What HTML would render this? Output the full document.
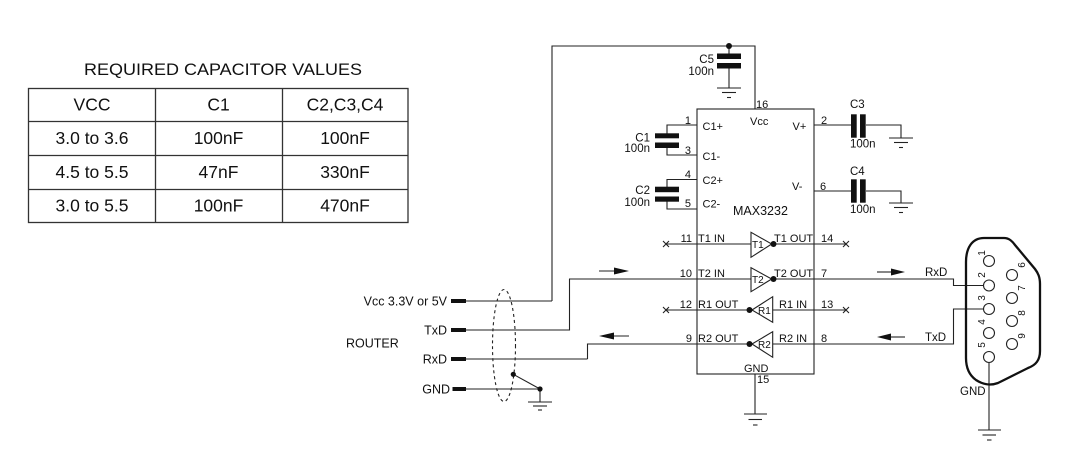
<!DOCTYPE html>
<html><head><meta charset="utf-8"><style>
html,body{margin:0;padding:0;background:#fff;}
svg{display:block;}
text{font-family:"Liberation Sans",Arial,sans-serif;fill:#111;}
</style></head><body>
<svg width="1067" height="465" viewBox="0 0 1067 465" xmlns="http://www.w3.org/2000/svg">
<!-- TABLE -->
<text x="223" y="75" font-size="17" text-anchor="middle" textLength="278" lengthAdjust="spacingAndGlyphs">REQUIRED CAPACITOR VALUES</text>
<g stroke="#333" stroke-width="1.3" fill="none">
<rect x="28.5" y="88.5" width="379.5" height="134"/>
<line x1="28.5" y1="121.5" x2="408" y2="121.5"/>
<line x1="28.5" y1="155.5" x2="408" y2="155.5"/>
<line x1="28.5" y1="189.5" x2="408" y2="189.5"/>
<line x1="155.5" y1="88.5" x2="155.5" y2="222.5"/>
<line x1="282.5" y1="88.5" x2="282.5" y2="222.5"/>
</g>
<g font-size="17.5" text-anchor="middle">
<text x="92" y="110.5">VCC</text><text x="218.5" y="110.5">C1</text><text x="345" y="110.5">C2,C3,C4</text>
<text x="92" y="144">3.0 to 3.6</text><text x="218.5" y="144">100nF</text><text x="345" y="144">100nF</text>
<text x="92" y="178">4.5 to 5.5</text><text x="218.5" y="178">47nF</text><text x="345" y="178">330nF</text>
<text x="92" y="211.5">3.0 to 5.5</text><text x="218.5" y="211.5">100nF</text><text x="345" y="211.5">470nF</text>
</g>

<!-- WIRES -->
<g stroke="#222" stroke-width="1.1" fill="none">
<!-- chip body -->
<rect x="697" y="109" width="117" height="265"/>
<!-- top vcc wire -->
<polyline points="552,301 552,46 755,46 755,109"/>
<!-- C5 -->
<line x1="729" y1="46" x2="729" y2="54"/>
<line x1="729" y1="68" x2="729" y2="88"/>
<line x1="717" y1="88" x2="741" y2="88"/>
<line x1="722" y1="92.5" x2="736" y2="92.5"/>
<line x1="727" y1="97.5" x2="731" y2="97.5"/>
<!-- C1 -->
<polyline points="697,125 667,125 667,134"/>
<polyline points="667,148 667,155 697,155"/>
<!-- C2 -->
<polyline points="697,179.5 667,179.5 667,187"/>
<polyline points="667,201 667,209 697,209"/>
<!-- C3 -->
<line x1="814" y1="125" x2="851" y2="125"/>
<polyline points="866,125 901,125 901,138"/>
<line x1="889" y1="138" x2="913" y2="138"/>
<line x1="894" y1="142.5" x2="908" y2="142.5"/>
<line x1="899" y1="147.5" x2="903" y2="147.5"/>
<!-- C4 -->
<line x1="814" y1="191" x2="851" y2="191"/>
<polyline points="866,191 901,191 901,203"/>
<line x1="889" y1="203" x2="913" y2="203"/>
<line x1="894" y1="207.5" x2="908" y2="207.5"/>
<line x1="899" y1="212.5" x2="903" y2="212.5"/>
<!-- T1 row -->
<line x1="666" y1="244" x2="751" y2="244"/>
<polygon points="751,232.3 751,257.3 771.7,244"/>
<line x1="772" y1="244" x2="846" y2="244"/>
<!-- T2 row -->
<line x1="569" y1="279" x2="751" y2="279"/>
<polygon points="751,267.7 751,291.7 771.7,279"/>
<polyline points="772,279 953.5,279 953.5,285.5 983.5,285.5"/>
<!-- R1 row -->
<line x1="666" y1="310" x2="752" y2="310"/>
<polygon points="752,310 772.7,296.7 772.7,322.3"/>
<line x1="772.7" y1="310" x2="846" y2="310"/>
<!-- R2 row -->
<polyline points="587.5,359 587.5,344 752,344"/>
<polygon points="752,344 772.7,331.7 772.7,357.3"/>
<polyline points="772.7,344 953.5,344 953.5,309 983.5,309"/>
<!-- TxD router wire -->
<polyline points="466,330 569.5,330 569.5,279"/>
<!-- Vcc router -->
<line x1="466" y1="301" x2="552" y2="301"/>
<!-- RxD router -->
<line x1="466" y1="359" x2="587.5" y2="359"/>
<!-- GND router -->
<line x1="466" y1="389" x2="540" y2="389"/>
<line x1="513.3" y1="374.3" x2="540" y2="389"/>
<line x1="540" y1="389" x2="540" y2="402"/>
<line x1="528" y1="402" x2="552" y2="402"/>
<line x1="533" y1="406" x2="547" y2="406"/>
<line x1="538" y1="410" x2="542" y2="410"/>
<!-- chip GND -->
<line x1="755" y1="374" x2="755" y2="414"/>
<line x1="744" y1="414" x2="767" y2="414"/>
<line x1="748.5" y1="419.5" x2="762" y2="419.5"/>
<line x1="753" y1="425" x2="757.5" y2="425"/>
<!-- DB9 GND -->
<line x1="989" y1="362.5" x2="989" y2="430"/>
<line x1="978" y1="430" x2="1001" y2="430"/>
<line x1="982.5" y1="435" x2="996" y2="435"/>
<line x1="987" y1="440" x2="991.5" y2="440"/>
<!-- x marks -->
<path d="M663,241 L669,247 M669,241 L663,247"/>
<path d="M843,241 L849,247 M849,241 L843,247"/>
<path d="M663,307 L669,313 M669,307 L663,313"/>
<path d="M843,307 L849,313 M849,307 L843,313"/>
<!-- arrows shafts -->
<line x1="599" y1="271" x2="616" y2="271"/>
<line x1="612" y1="336" x2="629" y2="336"/>
<line x1="877" y1="272" x2="893" y2="272"/>
<line x1="890" y1="337" x2="905" y2="337"/>
<!-- shield ellipse -->
<ellipse cx="504" cy="345.5" rx="11.5" ry="56" stroke-dasharray="3,3"/>
<!-- DB9 circles -->
<circle cx="989" cy="261" r="5.5"/>
<circle cx="989" cy="285.5" r="5.5"/>
<circle cx="989" cy="309" r="5.5"/>
<circle cx="989" cy="333" r="5.5"/>
<circle cx="989" cy="357" r="5.5"/>
<circle cx="1012" cy="275" r="5.5"/>
<circle cx="1012" cy="298" r="5.5"/>
<circle cx="1012" cy="321" r="5.5"/>
<circle cx="1012" cy="344" r="5.5"/>
</g>
<!-- DB9 shell -->
<path d="M966,262 C966,248 972,238 984,238 L1004,238 C1009,238 1012,241 1015,245 L1035,269 C1038,273 1040,277 1040,284 L1040,351 C1040,360 1036,365 1028,368 L998,383 C990,386 982,384 976,380 C969,375 966,368 966,358 Z" fill="none" stroke="#111" stroke-width="2.3"/>

<!-- filled parts -->
<g fill="#111">
<!-- cap plates -->
<rect x="717" y="53.5" width="24" height="5.5"/>
<rect x="717" y="63" width="24" height="5.5"/>
<rect x="655" y="133.3" width="24" height="5"/>
<rect x="655" y="142.5" width="24" height="5.5"/>
<rect x="655" y="186.7" width="24" height="5.5"/>
<rect x="655" y="196.5" width="24" height="5.2"/>
<rect x="851" y="114.3" width="5.7" height="23.4"/>
<rect x="860" y="114.3" width="5.7" height="23.4"/>
<rect x="851" y="179.3" width="5.7" height="23.4"/>
<rect x="860" y="179.3" width="5.7" height="23.4"/>
<!-- router stubs -->
<rect x="451" y="299" width="15" height="4"/>
<rect x="451" y="328" width="15" height="4"/>
<rect x="451" y="357" width="15" height="4"/>
<rect x="452.5" y="387" width="13.5" height="4"/>
<!-- dots -->
<circle cx="729" cy="46" r="3"/>
<circle cx="773.5" cy="244" r="3"/>
<circle cx="773.5" cy="279" r="3"/>
<circle cx="749.5" cy="310" r="3"/>
<circle cx="749.5" cy="344" r="3"/>
<circle cx="513.3" cy="374.3" r="2.6"/>
<circle cx="540" cy="389" r="2.6"/>
<!-- arrowheads -->
<polygon points="614,267.5 629,271 614,274.5"/>
<polygon points="599,336 614,332.5 614,339.5"/>
<polygon points="891,268.5 905,272 891,275.5"/>
<polygon points="877,337 891,333.5 891,340.5"/>
</g>

<!-- CHIP TEXT -->
<g font-size="11">
<text x="756" y="108">16</text>
<text x="750" y="125">Vcc</text>
<text x="702.5" y="130">C1+</text>
<text x="702.5" y="160">C1-</text>
<text x="702.5" y="184">C2+</text>
<text x="702.5" y="207.5">C2-</text>
<text x="792.5" y="130">V+</text>
<text x="792" y="190">V-</text>
<text x="733" y="215" font-size="12.5">MAX3232</text>
<text x="744" y="372">GND</text>
<text x="757" y="383">15</text>
<g text-anchor="end">
<text x="691" y="124">1</text>
<text x="691" y="154">3</text>
<text x="691" y="178">4</text>
<text x="691" y="207">5</text>
<text x="692" y="242">11</text>
<text x="692" y="277">10</text>
<text x="692" y="308">12</text>
<text x="692" y="342">9</text>
</g>
<text x="698" y="242">T1 IN</text>
<text x="698" y="277">T2 IN</text>
<text x="698" y="308">R1 OUT</text>
<text x="698" y="342">R2 OUT</text>
<text x="774" y="242">T1 OUT</text>
<text x="774" y="277">T2 OUT</text>
<text x="779" y="308">R1 IN</text>
<text x="779" y="342">R2 IN</text>
<text x="821" y="242">14</text>
<text x="821" y="277">7</text>
<text x="821" y="308">13</text>
<text x="821" y="342">8</text>
<text x="821" y="124">2</text>
<text x="820" y="190">6</text>
<text x="752" y="248" font-size="10">T1</text>
<text x="752" y="283" font-size="10">T2</text>
<text x="758" y="314" font-size="10">R1</text>
<text x="758" y="348" font-size="10">R2</text>
</g>
<!-- CAP LABELS -->
<g font-size="11.5">
<g text-anchor="end">
<text x="714" y="63">C5</text>
<text x="714" y="75">100n</text>
<text x="650" y="141.5">C1</text>
<text x="650" y="152">100n</text>
<text x="650" y="194">C2</text>
<text x="650" y="206">100n</text>
</g>
<text x="850" y="108">C3</text>
<text x="850" y="147.5">100n</text>
<text x="850" y="175">C4</text>
<text x="850" y="213">100n</text>
</g>
<!-- ROUTER LABELS -->
<g font-size="12.5" text-anchor="end">
<text x="447" y="305.5">Vcc 3.3V or 5V</text>
<text x="447" y="334.5">TxD</text>
<text x="447" y="363.5">RxD</text>
<text x="450" y="393.5">GND</text>
</g>
<text x="346" y="347.5" font-size="12.5">ROUTER</text>
<!-- DB9 LABELS -->
<g font-size="11.5">
<text x="925" y="276">RxD</text>
<text x="925" y="341">TxD</text>
<text x="960" y="395">GND</text>
</g>
<g font-size="10" text-anchor="middle">
<text transform="translate(985,253) rotate(-90)">1</text>
<text transform="translate(985,275) rotate(-90)">2</text>
<text transform="translate(985,298) rotate(-90)">3</text>
<text transform="translate(985,322) rotate(-90)">4</text>
<text transform="translate(985,345) rotate(-90)">5</text>
<text transform="translate(1025,265) rotate(-90)">6</text>
<text transform="translate(1025,288) rotate(-90)">7</text>
<text transform="translate(1025,313) rotate(-90)">8</text>
<text transform="translate(1025,336) rotate(-90)">9</text>
</g>
</svg>
</body></html>
